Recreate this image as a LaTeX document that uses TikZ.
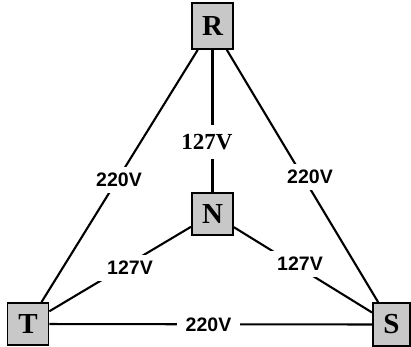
\documentclass[tikz,border=0pt]{standalone}
\usepackage{fontspec}
\setmainfont{Liberation Serif}
\setsansfont{Liberation Sans}
\begin{document}
\begin{tikzpicture}[x=1pt,y=-1pt,
  phase/.style={draw=black, line width=1.7pt, fill=boxgray, inner sep=0pt,
    minimum width=41pt, minimum height=43pt,
    font=\fontsize{29}{29}\selectfont\bfseries},
  wire/.style={line width=2.1pt, black},
  volt/.style={fill=white, inner xsep=9pt, inner ysep=6pt,
    font=\sffamily\bfseries\fontsize{19.5}{19.5}\selectfont},
  voltserif/.style={fill=white, inner xsep=9pt, inner ysep=9pt,
    font=\rmfamily\bfseries\fontsize{23}{23}\selectfont}
]
\definecolor{boxgray}{RGB}{200,200,200}
\useasboundingbox (0,0) rectangle (411,346);
\fill[white] (0,0) rectangle (411,346);

% phase and neutral terminals
\node[phase, minimum height=46pt] (R) at (212.5,26) {R};
\node[phase, minimum height=42pt] (N) at (212.5,214) {N};
\node[phase, minimum height=42pt] (T) at (28,324) {T};
\node[phase, minimum width=37pt, minimum height=43pt] (S) at (391.5,324.5) {S};

% wires between terminals
\draw[wire] (R) -- (T);
\draw[wire] (R) -- (S);
\draw[wire] (T) -- (S);
\draw[wire] (N) -- (T);
\draw[wire] (N) -- (S);
\draw[wire] (R) -- (N);

% voltage labels
\node[volt] (vRT) at (119,180) {220V};
\node[volt] (vRS) at (310,177) {220V};
\node[volt] (vTS) at (208.5,325) {220V};
\node[volt] (vNT) at (130,268) {127V};
\node[volt] (vNS) at (300,264) {127V};
\node[voltserif] (vRN) at (207,142) {127V};
\end{tikzpicture}
\end{document}
